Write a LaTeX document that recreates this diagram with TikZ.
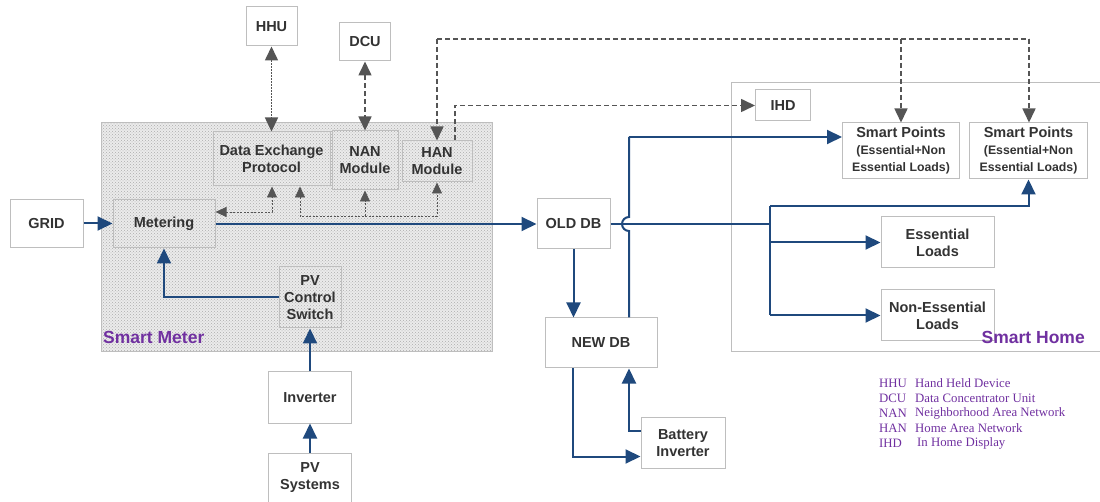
\documentclass[tikz,border=0pt]{standalone}
\usepackage{fontspec}
\setmainfont{Liberation Sans}
\newfontfamily\legendfont{Liberation Serif}
\usetikzlibrary{arrows.meta,patterns}
\definecolor{lineblue}{RGB}{31,73,125}
\definecolor{dgray}{RGB}{85,85,85}
\definecolor{bgray}{RGB}{190,190,190}
\definecolor{txtgray}{RGB}{51,51,51}
\definecolor{purp}{RGB}{112,48,160}
\tikzset{
  gtip/.tip={Triangle[length=14pt,width=13pt]},
  stip/.tip={Triangle[length=11pt,width=10pt]},
  btip/.tip={Triangle[length=15pt,width=14pt]}
}
\begin{document}
\begin{tikzpicture}[x=1pt,y=-1pt,
  box/.style={draw=bgray, line width=1pt, fill=white, text=txtgray,
    font=\bfseries\fontsize{14.5}{17}\selectfont, align=center, inner sep=0pt},
  ibox/.style={box, fill=none},
  pline/.style={draw=lineblue, line width=2pt, -btip},
  bline/.style={draw=lineblue, line width=2pt},
  gdash/.style={draw=dgray, line width=1.6pt, dash pattern=on 5pt off 3pt},
  gdot/.style={draw=dgray, line width=1.6pt, dash pattern=on 1.5pt off 1.5pt},
  gsmall/.style={draw=dgray, line width=0.8pt, dash pattern=on 2pt off 1.5pt},
  region/.style={font=\bfseries\fontsize{17.5}{19}\selectfont, text=purp, inner sep=0pt},
  legend/.style={font=\legendfont\fontsize{12.8}{14}\selectfont, text=purp, inner sep=0pt, anchor=west}
]
\useasboundingbox (0,0) rectangle (1100,502);

% regions
\path[fill=gray!16] (101,123) rectangle (492,352);
\path[pattern=crosshatch dots, pattern color=gray!65] (101,123) rectangle (492,352);
\draw[bgray, line width=1pt] (101,123) rectangle (492,352);
\node[region, anchor=south west] (smlabel) at (103,344) {Smart Meter};

\draw[bgray, line width=1pt] (1100,83) -- (731,83) -- (731,352) -- (1100,352);

% smart meter nodes
\node[ibox, minimum width=102pt, minimum height=48pt] (meter) at (164,224) {Metering};
\node[ibox, minimum width=117pt, minimum height=54pt] (dep) at (271.5,159) {Data Exchange\\Protocol};
\node[ibox, minimum width=66pt, minimum height=59pt] (nan) at (365,160.5) {NAN\\Module};
\node[ibox, minimum width=70pt, minimum height=41pt] (han) at (437,161.5) {HAN\\Module};
\node[ibox, minimum width=62pt, minimum height=61pt] (pvcs) at (310,297.5) {PV\\Control\\Switch};

% outer nodes
\node[box, minimum width=73pt, minimum height=48pt] (grid) at (46.5,223.5) {GRID};
\node[box, minimum width=51pt, minimum height=39pt] (hhu) at (271.5,26.5) {HHU};
\node[box, minimum width=51pt, minimum height=38pt] (dcu) at (365,42) {DCU};
\node[box, minimum width=83pt, minimum height=51pt] (inv) at (310,397.5) {Inverter};
\node[box, minimum width=83pt, minimum height=50pt] (pv) at (310,478) {PV\\Systems};
\node[box, minimum width=73pt, minimum height=50pt] (olddb) at (573.5,224) {OLD DB};
\node[box, minimum width=112pt, minimum height=50pt] (newdb) at (601,343) {NEW DB};
\node[box, minimum width=84pt, minimum height=51pt] (batinv) at (683,443) {Battery\\Inverter};
\node[box, minimum width=55pt, minimum height=31pt] (ihd) at (783,105.5) {IHD};
\node[box, minimum width=117pt, minimum height=56pt] (sp1) at (901,151)
  {Smart Points\\{\fontsize{12.3}{17}\selectfont(Essential+Non}\\{\fontsize{12.3}{15}\selectfont Essential Loads)}};
\node[box, minimum width=118pt, minimum height=56pt] (sp2) at (1028.5,151)
  {Smart Points\\{\fontsize{12.3}{17}\selectfont(Essential+Non}\\{\fontsize{12.3}{15}\selectfont Essential Loads)}};
\node[box, minimum width=113pt, minimum height=51pt] (ess) at (937.5,242.5) {Essential\\Loads};
\node[box, minimum width=113pt, minimum height=51pt] (ness) at (937.5,315.5) {Non-Essential\\Loads};

\node[region, anchor=south east] (shlabel) at (1085,344) {Smart Home};

% power flow (blue)
\draw[pline] (grid.east) -- (meter.west |- grid.east);
\draw[pline] (meter.east |- olddb.west) -- (olddb.west);
\draw[pline] (pvcs.west) -| (meter.south);
\draw[pline] (inv.north) -- (inv.north |- pvcs.south);
\draw[pline] (pv.north) -- (inv.south);
\draw[pline] (olddb.south) -- (olddb.south |- newdb.north);

\coordinate (hopb) at (629,231);
\draw[bline] (newdb.north -| hopb) -- (hopb) arc[start angle=270, end angle=90, radius=7pt] -- (629,137) coordinate (spturn);
\draw[pline] (spturn) -- (sp1.west |- spturn);

\coordinate (split) at (770,224);
\draw[bline] (olddb.east) -- (split);
\draw[bline] (770,206) -- (770,315.5);
\draw[pline] (770,206) -| (sp2.south);
\draw[pline] (ess.west -| split) -- (ess.west);
\draw[pline] (ness.west -| split) -- (ness.west);

\draw[pline] (newdb.south -| 573,0) |- ([yshift=-13.5pt]batinv.west);
\draw[pline] ([yshift=12.3pt]batinv.west) -| (newdb.south -| hopb);

% communication (gray)
\draw[gdot, gtip-gtip] (hhu.south) -- (dep.north -| hhu.south);
\draw[gdash, gtip-gtip] (dcu.south) -- (nan.north -| dcu.south);
\coordinate (hanl) at (437,39);
\draw[gdash, -gtip] (hanl) -- (han.north);
\draw[gdash] (hanl) -- (1029,39);
\draw[gdash, -gtip] (1029,39) -- (sp2.north -| 1029,0);
\draw[gdash, -gtip] (901,39) -- (sp1.north);
\draw[gdash, -gtip] (han.north -| 455,0) |- (ihd.west);

% internal links
\draw[gsmall, stip-stip] (meter.east |- 0,212) -| (dep.south -| 272,0);
\draw[gsmall, stip-stip] (dep.south -| 300,0) |- (437,216) -- (han.south);
\draw[gsmall, -stip] (nan.south |- 0,216) -- (nan.south);

% legend
\node[legend] (l1a) at (879,383.5) {HHU};
\node[legend] (l1b) at (915,383.5) {Hand Held Device};
\node[legend] (l2a) at (879,398.5) {DCU};
\node[legend] (l2b) at (915,398.5) {Data Concentrator Unit};
\node[legend] (l3a) at (879,413.5) {NAN};
\node[legend] (l3b) at (915,413.5) {Neighborhood Area Network};
\node[legend] (l4a) at (879,428.5) {HAN};
\node[legend] (l4b) at (915,428.5) {Home Area Network};
\node[legend] (l5a) at (879,443.5) {IHD};
\node[legend] (l5b) at (917,443.5) {In Home Display};
\end{tikzpicture}
\end{document}
